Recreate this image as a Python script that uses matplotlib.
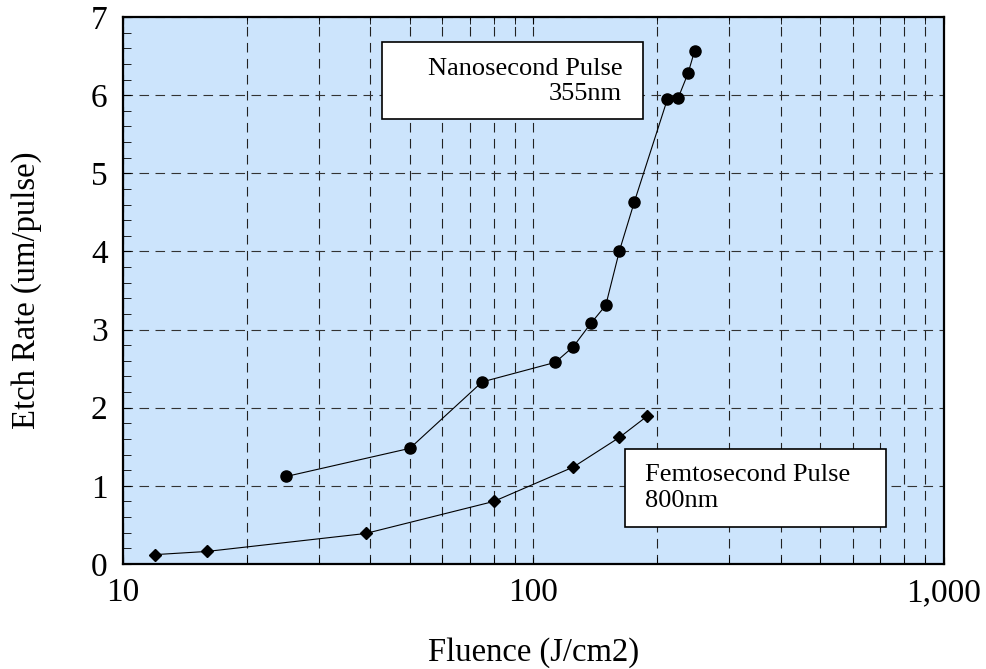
import matplotlib
matplotlib.use('Agg')
import matplotlib.pyplot as plt
from matplotlib.patches import Rectangle
from matplotlib.ticker import FixedLocator, FixedFormatter, MultipleLocator, NullFormatter

plt.rcParams['font.family'] = ['Liberation Serif', 'DejaVu Serif']

# Nanosecond pulse, 355nm
ns_fluence = [25, 50, 75, 113, 125, 138, 150, 162, 176, 212, 225, 238, 247]
ns_rate = [1.12, 1.48, 2.33, 2.58, 2.78, 3.08, 3.31, 4.01, 4.63, 5.95, 5.96, 6.28, 6.57]

# Femtosecond pulse, 800nm
fs_fluence = [12, 16, 39, 80, 125, 162, 189]
fs_rate = [0.12, 0.16, 0.39, 0.80, 1.24, 1.62, 1.89]

x_ticks = [10, 100, 1000]
x_tick_labels = ['10', '100', '1,000']

fig = plt.figure(figsize=(9.87, 6.69), dpi=100)
ax = fig.add_axes([0.1246, 0.157, 0.8318, 0.8176])
ax.set_facecolor('#cce4fc')

ax.plot(ns_fluence, ns_rate, color='black', lw=0.8, marker='o', markersize=8, zorder=3)
ax.plot(fs_fluence, fs_rate, color='black', lw=0.8, marker='D', markersize=6, zorder=3)

ax.set_xscale('log')
ax.set_xlim(10, 1000)
ax.set_ylim(0, 7)

ax.xaxis.set_major_locator(FixedLocator(x_ticks))
ax.xaxis.set_major_formatter(FixedFormatter(x_tick_labels))
minor_x = [m * d for d in (10, 100) for m in range(2, 10)]
ax.xaxis.set_minor_locator(FixedLocator(minor_x))
ax.xaxis.set_minor_formatter(NullFormatter())
ax.yaxis.set_major_locator(MultipleLocator(1))
ax.yaxis.set_minor_locator(MultipleLocator(0.2))

dash = (0, (8.6, 5.8))
ax.grid(which='major', axis='y', color='#333333', lw=0.8, linestyle=dash)
ax.grid(which='both', axis='x', color='#222222', lw=0.8, linestyle=dash)
ax.set_axisbelow(True)

ax.tick_params(axis='x', which='both', direction='in', length=5, top=True,
               labelsize=24, pad=10)
ax.tick_params(axis='y', which='both', direction='in', length=6, right=False,
               labelsize=24, pad=11)

for s in ax.spines.values():
    s.set_linewidth(1.6)

ax.set_xlabel('Fluence (J/cm2)', fontsize=23.5)
ax.set_ylabel('Etch Rate (um/pulse)', fontsize=23.5)
ax.xaxis.set_label_coords(0.5, -0.133)
ax.yaxis.set_label_coords(-0.099, 0.5)

# annotation boxes
ax.add_patch(Rectangle((0.3155, 0.8135), 0.3179, 0.1405, transform=ax.transAxes,
                       facecolor='white', edgecolor='black', lw=1.2, zorder=4))
ax.text(0.608, 0.882, 'Nanosecond Pulse\n355nm', transform=ax.transAxes,
        ha='right', va='center', multialignment='right', fontsize=19, zorder=5)

ax.add_patch(Rectangle((0.6114, 0.0676), 0.318, 0.1426, transform=ax.transAxes,
                       facecolor='white', edgecolor='black', lw=1.2, zorder=4))
ax.text(0.6358, 0.139, 'Femtosecond Pulse\n800nm', transform=ax.transAxes,
        ha='left', va='center', multialignment='left', fontsize=19, zorder=5)

fig.savefig('out.png', dpi=100)
